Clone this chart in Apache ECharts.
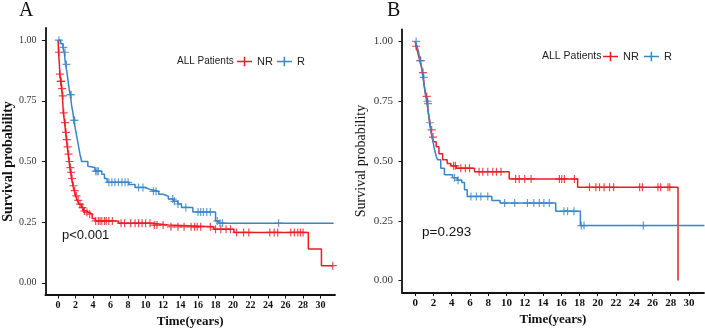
<!DOCTYPE html>
<html>
<head>
<meta charset="utf-8">
<script src="https://cdn.jsdelivr.net/npm/echarts@6/dist/echarts.min.js"></script>
<style>
  html, body { margin: 0; padding: 0; background: #fff; }
  #main { width: 705px; height: 333px; }
</style>
</head>
<body>
<div id="main"></div>
<script>
// tick labels
const timeTicks = [0, 2, 4, 6, 8, 10, 12, 14, 16, 18, 20, 22, 24, 26, 28, 30];
const survTicks = [0, 0.25, 0.5, 0.75, 1];

// panel A: [time, survival] steps
const aNR = [[0,1.0],[0.05,0.95],[0.15,0.90],[0.2,0.86],[0.3,0.83],[0.4,0.80],[0.49,0.77],[0.6,0.70],
  [0.75,0.66],[0.86,0.62],[0.95,0.59],[1.05,0.56],[1.15,0.53],[1.25,0.50],[1.35,0.475],[1.43,0.455],
  [1.55,0.43],[1.7,0.40],[1.85,0.38],[2.0,0.358],[2.2,0.34],[2.4,0.324],[2.65,0.31],[2.9,0.296],
  [3.2,0.29],[3.5,0.283],[3.9,0.265],[4.26,0.255],[6.9,0.246],[10.7,0.238],[12.6,0.231],
  [17.8,0.221],[20.1,0.208],[28.6,0.139],[30.1,0.071],[31.4,0.071]];
const aR = [[0,1.0],[0.3,0.985],[0.55,0.97],[0.7,0.95],[0.85,0.90],[1.0,0.87],[1.15,0.83],[1.3,0.79],
  [1.4,0.775],[1.55,0.73],[1.7,0.70],[1.8,0.67],[1.95,0.64],[2.1,0.61],[2.2,0.59],[2.35,0.56],
  [2.5,0.53],[2.7,0.50],[3.4,0.48],[3.6,0.475],[4.2,0.46],[5.0,0.447],[5.3,0.43],[5.6,0.414],
  [8.1,0.405],[8.8,0.393],[9.9,0.385],[10.5,0.377],[11.5,0.365],[12.0,0.357],[12.6,0.345],
  [13.2,0.336],[13.7,0.325],[14.1,0.311],[15.4,0.292],[18.0,0.255],[18.4,0.246],[31.5,0.246]];
// censored times
const aNRcens = [0.1,0.2,0.3,0.35,0.45,0.55,0.65,0.8,0.9,1.0,1.1,1.2,1.3,1.4,1.5,1.6,1.75,1.9,2.1,
  2.3,2.5,2.8,3.0,3.3,3.6,4.3,4.6,4.8,5.0,5.3,5.5,5.8,6.2,7.2,7.6,8.3,8.8,9.2,9.6,10.0,10.5,11.0,
  11.3,12.0,12.9,13.7,14.4,15.2,15.6,15.9,16.3,17.4,18.0,18.6,19.2,19.7,20.4,21.2,21.8,24.2,24.7,
  25.1,26.6,27.0,27.4,27.7,28.0,31.4];
const aRcens = [0.1,0.6,0.8,0.95,1.4,1.5,1.8,1.9,4.3,4.45,4.6,5.8,6.15,6.5,6.9,7.3,7.65,8.0,9.2,9.7,
  10.9,11.2,13.1,13.3,13.7,14.6,16.0,16.3,16.6,17.0,17.4,18.2,18.5,18.8,25.2];

// panel B
const bNR = [[0,1.0],[0.1,0.98],[0.3,0.95],[0.5,0.92],[0.65,0.90],[0.8,0.87],[0.9,0.84],[1.05,0.80],
  [1.2,0.77],[1.3,0.75],[1.4,0.71],[1.55,0.67],[1.7,0.63],[1.85,0.60],[2.0,0.58],[2.3,0.56],
  [2.6,0.53],[3.0,0.505],[3.5,0.49],[3.9,0.48],[4.5,0.47],[6.5,0.455],[10.3,0.425],[17.8,0.39],
  [28.8,0.0]];
const bR = [[0,1.0],[0.2,0.98],[0.4,0.95],[0.55,0.92],[0.7,0.89],[0.85,0.85],[1.0,0.81],[1.15,0.77],
  [1.3,0.74],[1.45,0.70],[1.6,0.66],[1.75,0.62],[1.9,0.59],[2.1,0.55],[2.3,0.52],[2.45,0.505],
  [2.8,0.47],[3.2,0.443],[4.1,0.43],[4.6,0.42],[5.1,0.41],[5.4,0.38],[5.7,0.352],[8.4,0.335],
  [9.3,0.324],[15.4,0.29],[18.1,0.23],[31.7,0.23]];
const bNRcens = [0.1,0.6,0.85,1.25,1.35,1.8,1.95,4.2,4.4,5.0,5.5,5.95,7.0,7.4,7.95,8.5,8.9,9.4,
  11.0,11.4,12.0,12.7,15.8,16.06,16.35,17.45,19.1,19.8,20.2,20.7,21.3,21.75,24.6,24.9,26.6,26.9,
  27.7,27.9];
const bRcens = [0.1,0.55,0.95,1.4,1.6,4.3,4.7,6.1,6.7,7.2,7.95,9.8,10.9,12.3,13.0,13.6,14.1,14.7,
  16.3,16.7,17.4,18.2,18.5,25.0];

const RED = '#EC1C24';
const BLUE = '#3A85C5';
const SERIF = 'Liberation Serif';
const SANS = 'Liberation Sans';
const PLUS = 'path://M3.4,0h1.2v3.4h3.4v1.2h-3.4v3.4h-1.2v-3.4h-3.4v-1.2h3.4z';
const LEGEND_ICON = 'path://M0,4.3h14v1.4h-14z M6.3,0.5h1.4v9h-1.4z';

function survAt(steps, t) {
  let s = steps[0][1];
  for (const p of steps) { if (p[0] <= t) s = p[1]; }
  return s;
}

function xAxis(idx, size) {
  return {
    type: 'value', gridIndex: idx, min: -1.45, max: 31.65,
    name: 'Time(years)', nameLocation: 'middle', nameGap: 20,
    nameTextStyle: { fontFamily: SERIF, fontWeight: 'bold', fontSize: 13, color: '#111' },
    axisLine: { onZero: false, lineStyle: { color: '#111', width: 1.8 } },
    axisTick: { length: 3.5, customValues: timeTicks, lineStyle: { color: '#111', width: 1 } },
    axisLabel: { customValues: timeTicks, margin: 5, fontFamily: SERIF, fontWeight: 'bold',
      fontSize: size, color: '#111' },
    splitLine: { show: false }
  };
}
function yAxis(idx, bold, size, gap) {
  return {
    type: 'value', gridIndex: idx, min: -0.05, max: 1.05,
    name: 'Survival probability', nameLocation: 'middle', nameGap: gap,
    nameTextStyle: { fontFamily: SERIF, fontWeight: bold ? 'bold' : 'normal', fontSize: 14, color: '#111' },
    axisLine: { onZero: false, lineStyle: { color: '#111', width: 1.8 } },
    axisTick: { length: 3.5, customValues: survTicks, lineStyle: { color: '#111', width: 1 } },
    axisLabel: { customValues: survTicks, margin: 9, fontFamily: SERIF, fontSize: size, color: '#333',
      formatter: v => v.toFixed(2) },
    splitLine: { show: false }
  };
}
function curve(name, steps, color, idx) {
  return {
    name, type: 'line', step: 'end', data: steps, xAxisIndex: idx, yAxisIndex: idx,
    showSymbol: false, lineStyle: { color, width: 1.5 }, itemStyle: { color },
    silent: true, animation: false
  };
}
function censor(name, steps, times, color, idx) {
  return {
    name, type: 'scatter', xAxisIndex: idx, yAxisIndex: idx,
    data: times.map(t => [t, survAt(steps, t)]),
    symbol: PLUS, symbolSize: 8, itemStyle: { color }, silent: true, animation: false
  };
}

const chart = echarts.init(document.getElementById('main'), null, { renderer: 'canvas' });
chart.setOption({
  backgroundColor: '#fff',
  animation: false,
  grid: [
    { left: 43, top: 28, width: 292, height: 267 },
    { left: 402, top: 29.5, width: 302, height: 263 }
  ],
  xAxis: [xAxis(0, 10), xAxis(1, 11)],
  yAxis: [yAxis(0, true, 10, 30), yAxis(1, false, 11, 34)],
  legend: [
    { left: 237, top: 56, padding: 0, icon: LEGEND_ICON, itemWidth: 15, itemHeight: 11, itemGap: 4,
      textStyle: { fontFamily: SANS, fontSize: 11, color: '#222' },
      data: [{ name: 'NR', itemStyle: { color: RED } }, { name: 'R', itemStyle: { color: BLUE } }] },
    { left: 603, top: 51, padding: 0, icon: LEGEND_ICON, itemWidth: 15, itemHeight: 11, itemGap: 5,
      textStyle: { fontFamily: SANS, fontSize: 11, color: '#222' },
      data: [{ name: 'NR', itemStyle: { color: RED } }, { name: 'R', itemStyle: { color: BLUE } }] }
  ],
  graphic: [
    { type: 'text', left: 19, top: 1, style: { text: 'A', font: '20px "Liberation Serif"', fill: '#111' } },
    { type: 'text', left: 387, top: 1, style: { text: 'B', font: '20px "Liberation Serif"', fill: '#111' } },
    { type: 'text', left: 177, top: 56, style: { text: 'ALL Patients', font: '10px "Liberation Sans"', fill: '#222' } },
    { type: 'text', left: 542, top: 51, style: { text: 'ALL Patients', font: '10.5px "Liberation Sans"', fill: '#222' } },
    { type: 'text', left: 62, top: 229, style: { text: 'p<0.001', font: '13px "Liberation Sans"', fill: '#111' } },
    { type: 'text', left: 422, top: 225, style: { text: 'p=0.293', font: '13.5px "Liberation Sans"', fill: '#111' } }
  ],
  series: [
    curve('NR', aNR, RED, 0), curve('R', aR, BLUE, 0),
    censor('NR', aNR, aNRcens, RED, 0), censor('R', aR, aRcens, BLUE, 0),
    curve('NR', bNR, RED, 1), curve('R', bR, BLUE, 1),
    censor('NR', bNR, bNRcens, RED, 1), censor('R', bR, bRcens, BLUE, 1)
  ]
});
</script>
</body>
</html>
